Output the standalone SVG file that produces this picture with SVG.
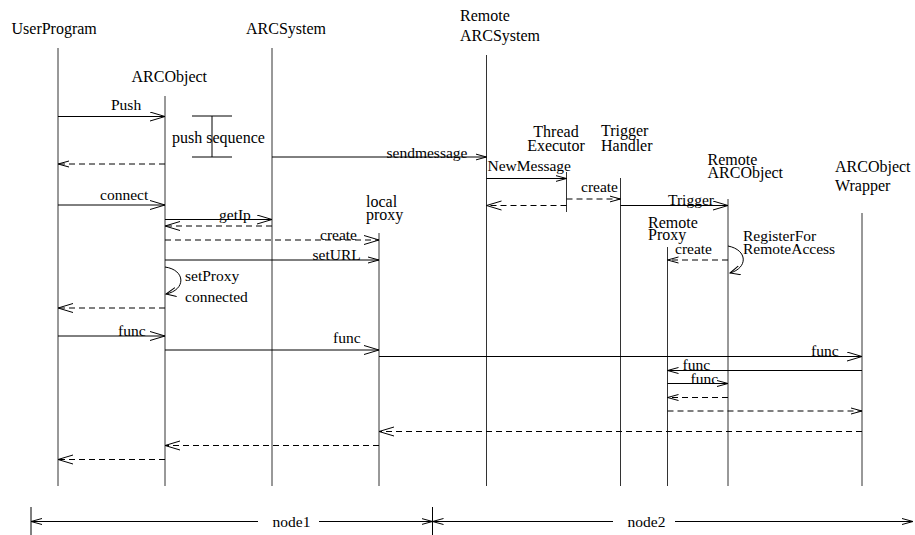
<svg xmlns="http://www.w3.org/2000/svg" width="915" height="535" viewBox="0 0 915 535">
  <style>
    text { font-family: "Liberation Serif", "Times New Roman", serif; fill: #000; }
    .hd { font-size: 16px; }
    .lb { font-size: 15.5px; }
    .life { stroke: #333; stroke-width: 1; fill: none; }
    .msg { stroke: #000; stroke-width: 1; fill: none; }
    .ret { stroke: #000; stroke-width: 1; fill: none; stroke-dasharray: 6 4; }
    .dim { stroke: #000; stroke-width: 1; fill: none; }
  </style>
  <defs>
    <marker id="big" markerUnits="userSpaceOnUse" markerWidth="18" markerHeight="12" refX="15" refY="5" orient="auto">
      <path d="M0,0.5 L15,5 L0,9.5" fill="none" stroke="#000" stroke-width="1"/>
    </marker>
    <marker id="small" markerUnits="userSpaceOnUse" markerWidth="14" markerHeight="10" refX="11" refY="4" orient="auto">
      <path d="M0,1 L11,4 L0,7" fill="none" stroke="#000" stroke-width="1"/>
    </marker>
    <marker id="loop" markerUnits="userSpaceOnUse" markerWidth="14" markerHeight="12" refX="10" refY="5" orient="auto">
      <path d="M0,0.5 L10,5 L0,9.5" fill="none" stroke="#000" stroke-width="1"/>
    </marker>
  </defs>

  <!-- lifelines and their headers -->
  <g id="UserProgram">
    <text class="hd" x="11.5" y="34">UserProgram</text>
    <line class="life" x1="58" y1="48" x2="58" y2="486"/>
  </g>
  <g id="ARCObject">
    <text class="hd" x="131.5" y="82">ARCObject</text>
    <line class="life" x1="165" y1="96" x2="165" y2="486"/>
  </g>
  <g id="ARCSystem">
    <text class="hd" x="246" y="34">ARCSystem</text>
    <line class="life" x1="272" y1="48" x2="272" y2="486"/>
  </g>
  <g id="LocalProxy">
    <text class="hd" x="366" y="206.5">local</text>
    <text class="hd" x="366" y="219.5">proxy</text>
    <line class="life" x1="379" y1="233" x2="379" y2="486"/>
  </g>
  <g id="RemoteARCSystem">
    <text class="hd" x="460" y="20.5">Remote</text>
    <text class="hd" x="460" y="41">ARCSystem</text>
    <line class="life" x1="486.5" y1="55" x2="486.5" y2="486"/>
  </g>
  <g id="ThreadExecutor">
    <text class="hd" x="556" y="137" text-anchor="middle">Thread</text>
    <text class="hd" x="556" y="151" text-anchor="middle">Executor</text>
    <line class="life" x1="566.5" y1="172" x2="566.5" y2="212"/>
  </g>
  <g id="TriggerHandler">
    <text class="hd" x="601" y="136">Trigger</text>
    <text class="hd" x="601" y="150.5">Handler</text>
    <line class="life" x1="620.5" y1="178" x2="620.5" y2="486"/>
  </g>
  <g id="RemoteProxy">
    <text class="hd" x="648" y="227.5">Remote</text>
    <text class="hd" x="648" y="239.5">Proxy</text>
    <line class="life" x1="667.5" y1="247" x2="667.5" y2="486"/>
  </g>
  <g id="RemoteARCObject">
    <text class="hd" x="707.5" y="165">Remote</text>
    <text class="hd" x="707.5" y="178">ARCObject</text>
    <line class="life" x1="728" y1="199" x2="728" y2="486"/>
  </g>
  <g id="ARCObjectWrapper">
    <text class="hd" x="835" y="171.5">ARCObject</text>
    <text class="hd" x="835" y="190.5">Wrapper</text>
    <line class="life" x1="862" y1="213" x2="862" y2="486"/>
  </g>

  <!-- push sequence bracket -->
  <g id="PushSequence">
    <line class="dim" x1="192" y1="116" x2="232" y2="116"/>
    <line class="dim" x1="192" y1="157" x2="232" y2="157"/>
    <line class="dim" x1="212" y1="116" x2="212" y2="157"/>
    <text class="hd" x="172" y="143">push sequence</text>
  </g>

  <!-- messages -->
  <g id="connectors">
    <line class="msg" x1="58" y1="116.5" x2="165" y2="116.5" marker-end="url(#big)"/>
    <text class="lb" x="111" y="110">Push</text>
    <line class="ret" x1="165" y1="164" x2="58" y2="164" marker-end="url(#small)"/>

    <line class="msg" x1="272" y1="157" x2="486.5" y2="157" marker-end="url(#small)"/>
    <text class="lb" x="386.5" y="158">sendmessage</text>
    <line class="msg" x1="486.5" y1="178.5" x2="566.5" y2="178.5" marker-end="url(#small)"/>
    <text class="lb" x="487.5" y="171">NewMessage</text>
    <line class="ret" x1="566.5" y1="205.5" x2="486.5" y2="205.5" marker-end="url(#big)"/>
    <line class="ret" x1="566.5" y1="199" x2="620.5" y2="199" marker-end="url(#small)"/>
    <text class="lb" x="581" y="191.5">create</text>
    <line class="msg" x1="620.5" y1="205.5" x2="728" y2="205.5" marker-end="url(#big)"/>
    <text class="lb" x="668" y="205">Trigger</text>

    <line class="msg" x1="58" y1="205" x2="165" y2="205" marker-end="url(#big)"/>
    <text class="lb" x="100" y="200">connect</text>
    <line class="msg" x1="165" y1="219.5" x2="272" y2="219.5" marker-end="url(#big)"/>
    <text class="lb" x="219" y="219.5">getIp</text>
    <line class="ret" x1="272" y1="226" x2="165" y2="226" marker-end="url(#big)"/>
    <line class="ret" x1="165" y1="240" x2="379" y2="240" marker-end="url(#big)"/>
    <text class="lb" x="320" y="240">create</text>
    <line class="msg" x1="165" y1="260" x2="379" y2="260" marker-end="url(#small)"/>
    <text class="lb" x="312.5" y="260">setURL</text>
    <path class="msg" d="M165,267 C186,270 186,290 166,294" marker-end="url(#loop)"/>
    <text class="lb" x="185" y="281">setProxy</text>
    <text class="lb" x="185" y="302">connected</text>
    <line class="ret" x1="165" y1="308" x2="58" y2="308" marker-end="url(#big)"/>

    <line class="ret" x1="728" y1="260" x2="667.5" y2="260" marker-end="url(#small)"/>
    <text class="lb" x="675" y="254">create</text>
    <path class="msg" d="M728,246 C748,250 748,268 730,273" marker-end="url(#loop)"/>
    <text class="lb" x="743" y="240.5">RegisterFor</text>
    <text class="lb" x="743" y="254">RemoteAccess</text>

    <line class="msg" x1="58" y1="336" x2="165" y2="336" marker-end="url(#big)"/>
    <text class="lb" x="118" y="336">func</text>
    <line class="msg" x1="165" y1="350" x2="379" y2="350" marker-end="url(#big)"/>
    <text class="lb" x="333" y="343">func</text>
    <line class="msg" x1="379" y1="356.5" x2="862" y2="356.5" marker-end="url(#big)"/>
    <text class="lb" x="811" y="356">func</text>
    <line class="msg" x1="862" y1="370.5" x2="667.5" y2="370.5" marker-end="url(#small)"/>
    <text class="lb" x="682.5" y="370">func</text>
    <line class="msg" x1="667.5" y1="383.5" x2="728" y2="383.5" marker-end="url(#small)"/>
    <text class="lb" x="690.5" y="384">func</text>
    <line class="ret" x1="728" y1="397.5" x2="667.5" y2="397.5" marker-end="url(#small)"/>
    <line class="ret" x1="667.5" y1="411" x2="862" y2="411" marker-end="url(#small)"/>
    <line class="ret" x1="862" y1="431.5" x2="379" y2="431.5" marker-end="url(#big)"/>
    <line class="ret" x1="379" y1="445.5" x2="165" y2="445.5" marker-end="url(#big)"/>
    <line class="ret" x1="165" y1="459.5" x2="58" y2="459.5" marker-end="url(#big)"/>
  </g>

  <!-- node extents -->
  <g id="node1">
    <line class="dim" x1="31" y1="507" x2="31" y2="535"/>
    <line class="dim" x1="258" y1="521.5" x2="31" y2="521.5" marker-end="url(#small)"/>
    <line class="dim" x1="319" y1="521.5" x2="432.5" y2="521.5" marker-end="url(#small)"/>
    <text class="lb" x="272.5" y="526.5">node1</text>
  </g>
  <g id="node2">
    <line class="dim" x1="432.5" y1="507" x2="432.5" y2="535"/>
    <line class="dim" x1="613" y1="521.5" x2="432.5" y2="521.5" marker-end="url(#small)"/>
    <line class="dim" x1="675" y1="521.5" x2="913" y2="521.5" marker-end="url(#small)"/>
    <text class="lb" x="627.5" y="526.5">node2</text>
  </g>
</svg>
